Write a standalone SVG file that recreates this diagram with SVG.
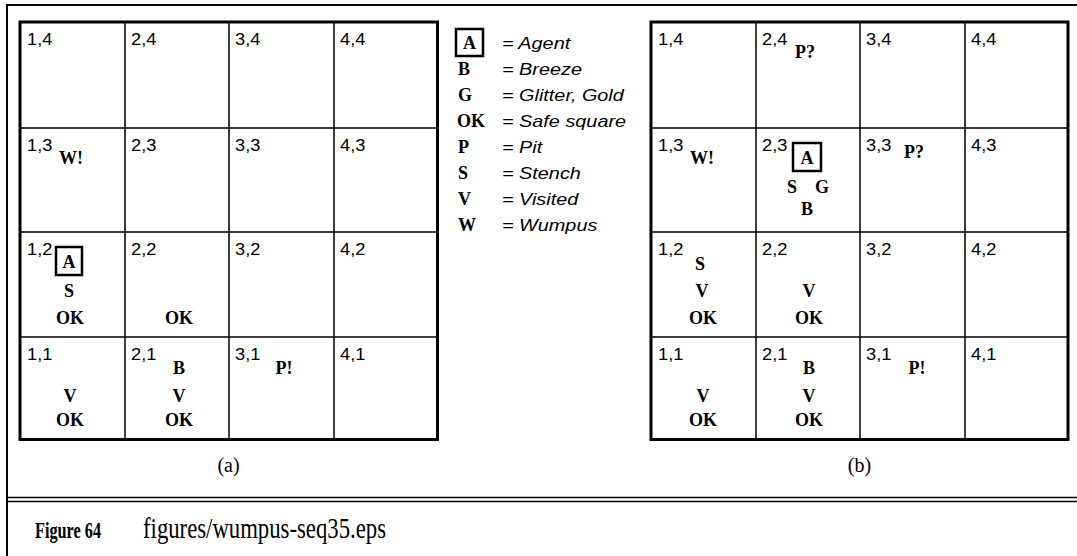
<svg xmlns="http://www.w3.org/2000/svg" width="1077" height="556" viewBox="0 0 1077 556">
<style>
.fr{stroke:#000;fill:none;stroke-width:2}
.dl{stroke:#000;fill:none;stroke-width:1.6}
.outer{stroke:#000;fill:none;stroke-width:3}
.gl{stroke:#000;fill:none;stroke-width:1.5}
.box{stroke:#000;fill:none;stroke-width:2.5}
.lbl{font-family:"Liberation Sans",Arial,sans-serif;font-size:16px;fill:#000}
.b{font-family:"Liberation Serif","Times New Roman",serif;font-weight:bold;font-size:18px;text-anchor:middle;fill:#000}
.lb{font-family:"Liberation Serif","Times New Roman",serif;font-weight:bold;font-size:18px;fill:#000}
.leg{font-family:"Liberation Sans",Arial,sans-serif;font-style:italic;font-size:16px;fill:#000}
.cap{font-family:"Liberation Serif","Times New Roman",serif;font-size:20px;fill:#000;text-anchor:middle}
.fig{font-family:"Liberation Serif","Times New Roman",serif;font-weight:bold;font-size:23px;fill:#000}
.fname{font-family:"Liberation Serif","Times New Roman",serif;font-size:30px;fill:#000}
</style>
<rect width="1077" height="556" fill="#fff"/>
<g id="frame">
<line class="fr" x1="7" y1="4" x2="7" y2="556"/>
<line class="fr" x1="6" y1="5" x2="1077" y2="5"/>
<line class="dl" x1="7" y1="497.5" x2="1077" y2="497.5"/>
<line class="dl" x1="7" y1="501.5" x2="1077" y2="501.5"/>
</g>
<g id="grid-a">
<rect class="outer" x="20" y="22" width="417.5" height="417.5"/>
<path class="gl" d="M125 22V439.5M229 22V439.5M334 22V439.5M20 128H437.5M20 232H437.5M20 337H437.5"/>
<g id="a-1-4"><text class="lbl" transform="translate(27 45) scale(1.14 1)">1,4</text></g>
<g id="a-2-4"><text class="lbl" transform="translate(131 45) scale(1.14 1)">2,4</text></g>
<g id="a-3-4"><text class="lbl" transform="translate(235 45) scale(1.14 1)">3,4</text></g>
<g id="a-4-4"><text class="lbl" transform="translate(340 45) scale(1.14 1)">4,4</text></g>
<g id="a-1-3"><text class="lbl" transform="translate(27 151) scale(1.14 1)">1,3</text><text class="b" x="71" y="164">W!</text></g>
<g id="a-2-3"><text class="lbl" transform="translate(131 151) scale(1.14 1)">2,3</text></g>
<g id="a-3-3"><text class="lbl" transform="translate(235 151) scale(1.14 1)">3,3</text></g>
<g id="a-4-3"><text class="lbl" transform="translate(340 151) scale(1.14 1)">4,3</text></g>
<g id="a-1-2"><text class="lbl" transform="translate(27 255) scale(1.14 1)">1,2</text><rect class="box" x="56" y="247" width="26" height="28"/><text class="b" x="69" y="268">A</text><text class="b" x="69" y="297">S</text><text class="b" x="70" y="324">OK</text></g>
<g id="a-2-2"><text class="lbl" transform="translate(131 255) scale(1.14 1)">2,2</text><text class="b" x="179" y="324">OK</text></g>
<g id="a-3-2"><text class="lbl" transform="translate(235 255) scale(1.14 1)">3,2</text></g>
<g id="a-4-2"><text class="lbl" transform="translate(340 255) scale(1.14 1)">4,2</text></g>
<g id="a-1-1"><text class="lbl" transform="translate(27 360) scale(1.14 1)">1,1</text><text class="b" x="70" y="402">V</text><text class="b" x="70" y="426">OK</text></g>
<g id="a-2-1"><text class="lbl" transform="translate(131 360) scale(1.14 1)">2,1</text><text class="b" x="179" y="374">B</text><text class="b" x="179" y="402">V</text><text class="b" x="179" y="426">OK</text></g>
<g id="a-3-1"><text class="lbl" transform="translate(235 360) scale(1.14 1)">3,1</text><text class="b" x="284" y="374">P!</text></g>
<g id="a-4-1"><text class="lbl" transform="translate(340 360) scale(1.14 1)">4,1</text></g>
</g>
<g id="legend">
<rect class="box" x="456" y="29" width="27" height="27"/>
<text class="b" x="469.5" y="49">A</text><text class="leg" transform="translate(502 49) scale(1.24 1)">= Agent</text>
<text class="lb" x="458" y="75">B</text><text class="leg" transform="translate(502 75) scale(1.24 1)">= Breeze</text>
<text class="lb" x="458" y="101">G</text><text class="leg" transform="translate(502 101) scale(1.24 1)">= Glitter, Gold</text>
<text class="lb" x="457" y="127">OK</text><text class="leg" transform="translate(502 127) scale(1.24 1)">= Safe square</text>
<text class="lb" x="458" y="153">P</text><text class="leg" transform="translate(502 153) scale(1.24 1)">= Pit</text>
<text class="lb" x="458" y="179">S</text><text class="leg" transform="translate(502 179) scale(1.24 1)">= Stench</text>
<text class="lb" x="458" y="205">V</text><text class="leg" transform="translate(502 205) scale(1.24 1)">= Visited</text>
<text class="lb" x="458" y="231">W</text><text class="leg" transform="translate(502 231) scale(1.24 1)">= Wumpus</text>
</g>
<g id="grid-b">
<rect class="outer" x="651" y="22" width="417" height="417.5"/>
<path class="gl" d="M756 22V439.5M860 22V439.5M965 22V439.5M651 128H1068M651 232H1068M651 337H1068"/>
<g id="b-1-4"><text class="lbl" transform="translate(658 45) scale(1.14 1)">1,4</text></g>
<g id="b-2-4"><text class="lbl" transform="translate(762 45) scale(1.14 1)">2,4</text><text class="b" x="805" y="58">P?</text></g>
<g id="b-3-4"><text class="lbl" transform="translate(866 45) scale(1.14 1)">3,4</text></g>
<g id="b-4-4"><text class="lbl" transform="translate(971 45) scale(1.14 1)">4,4</text></g>
<g id="b-1-3"><text class="lbl" transform="translate(658 151) scale(1.14 1)">1,3</text><text class="b" x="702" y="164">W!</text></g>
<g id="b-2-3"><text class="lbl" transform="translate(762 151) scale(1.14 1)">2,3</text><rect class="box" x="793" y="143" width="28" height="28"/><text class="b" x="807" y="164">A</text><text class="b" x="792" y="193">S</text><text class="b" x="822" y="193">G</text><text class="b" x="807" y="215">B</text></g>
<g id="b-3-3"><text class="lbl" transform="translate(866 151) scale(1.14 1)">3,3</text><text class="b" x="914" y="158">P?</text></g>
<g id="b-4-3"><text class="lbl" transform="translate(971 151) scale(1.14 1)">4,3</text></g>
<g id="b-1-2"><text class="lbl" transform="translate(658 255) scale(1.14 1)">1,2</text><text class="b" x="700" y="270">S</text><text class="b" x="702" y="297">V</text><text class="b" x="703" y="324">OK</text></g>
<g id="b-2-2"><text class="lbl" transform="translate(762 255) scale(1.14 1)">2,2</text><text class="b" x="809" y="297">V</text><text class="b" x="809" y="324">OK</text></g>
<g id="b-3-2"><text class="lbl" transform="translate(866 255) scale(1.14 1)">3,2</text></g>
<g id="b-4-2"><text class="lbl" transform="translate(971 255) scale(1.14 1)">4,2</text></g>
<g id="b-1-1"><text class="lbl" transform="translate(658 360) scale(1.14 1)">1,1</text><text class="b" x="703" y="402">V</text><text class="b" x="703" y="426">OK</text></g>
<g id="b-2-1"><text class="lbl" transform="translate(762 360) scale(1.14 1)">2,1</text><text class="b" x="809" y="374">B</text><text class="b" x="809" y="402">V</text><text class="b" x="809" y="426">OK</text></g>
<g id="b-3-1"><text class="lbl" transform="translate(866 360) scale(1.14 1)">3,1</text><text class="b" x="917" y="374">P!</text></g>
<g id="b-4-1"><text class="lbl" transform="translate(971 360) scale(1.14 1)">4,1</text></g>
</g>
<g id="captions">
<text class="cap" x="228.5" y="472">(a)</text>
<text class="cap" x="859.5" y="472">(b)</text>
<text class="fig" x="35" y="538" textLength="66" lengthAdjust="spacingAndGlyphs">Figure 64</text>
<text class="fname" x="143" y="538" textLength="243" lengthAdjust="spacingAndGlyphs">figures/wumpus-seq35.eps</text>
</g>
</svg>
